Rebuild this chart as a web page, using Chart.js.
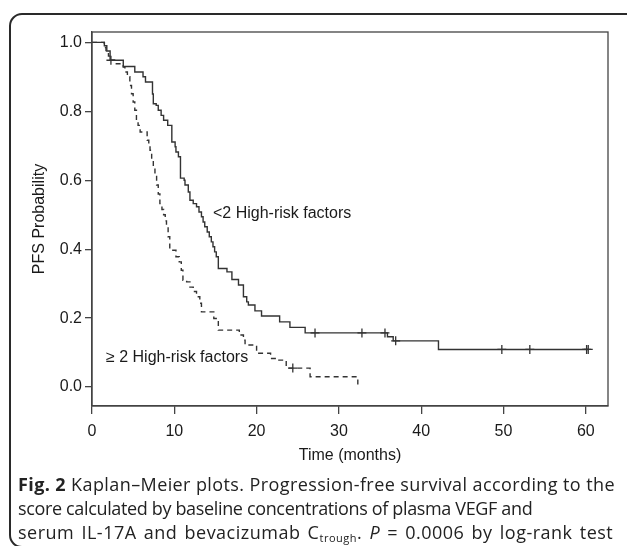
<!DOCTYPE html>
<html>
<head>
<meta charset="utf-8">
<script src="https://cdn.jsdelivr.net/npm/chart.js@4.4.1/dist/chart.umd.min.js"></script>
<style>
  html, body { margin: 0; padding: 0; background: #fff; }
  body { width: 627px; height: 546px; position: relative; overflow: hidden; }
  #box { position: absolute; left: 9px; top: 13px; width: 660px; height: 531px; border: 2px solid #2a2a2a; border-radius: 13px; }
  #wrap { position: absolute; left: 0; top: 0; width: 627px; height: 480px; }
  #caption { position: absolute; left: 18px; top: 472px; font-family: "Open Sans", sans-serif; font-size: 18px; line-height: 24px; color: #222; }
  #caption div { white-space: nowrap; }
  #caption .l1 { letter-spacing: 0.4px; }
  #caption .l2 { letter-spacing: -0.35px; }
  #caption .l3 { letter-spacing: 0.5px; word-spacing: 2px; }
  #caption b { font-weight: 700; }
  #caption sub { font-size: 11px; line-height: 0; vertical-align: -3px; }
</style>
</head>
<body>
<div id="box"></div>
<div id="wrap"><canvas id="km"></canvas></div>
<div id="caption">
  <div class="l1"><b>Fig. 2</b> Kaplan–Meier plots. Progression-free survival according to the</div>
  <div class="l2">score calculated by baseline concentrations of plasma VEGF and</div>
  <div class="l3">serum IL-17A and bevacizumab C<sub>trough</sub>. <i>P</i> = 0.0006 by log-rank test</div>
</div>
<script>
// axes
const xTicks = [0, 10, 20, 30, 40, 50, 60];
const yTicks = [0, 0.2, 0.4, 0.6, 0.8, 1.0];

// <2 high-risk factors (solid) — step times / survival after event
const lowTime = [0, 1.5, 1.8, 2.2, 3.8, 5.2, 6.2, 6.5, 7.35, 7.45, 7.8, 8.05, 8.4, 8.7, 9.2, 9.7, 10.1, 10.2, 10.5, 10.75,
  11.2, 11.3, 11.7, 11.9, 12.3, 12.7, 13.0, 13.3, 13.5, 13.7, 14.0, 14.25, 14.5, 14.7, 14.9, 15.1, 15.35,
  16.4, 17.0, 17.8, 18.4, 18.8, 19.0, 19.8, 20.6, 22.8, 24.05, 25.9, 35.9, 36.6, 42.1, 60.3];
const lowSurv = [1.0, 0.99, 0.975, 0.948, 0.93, 0.914, 0.9, 0.885, 0.85, 0.822, 0.817, 0.803, 0.788, 0.774, 0.759, 0.711, 0.697, 0.682, 0.668, 0.606,
  0.6, 0.586, 0.566, 0.542, 0.532, 0.523, 0.508, 0.494, 0.479, 0.465, 0.45, 0.436, 0.421, 0.407, 0.392, 0.378, 0.344,
  0.334, 0.312, 0.296, 0.262, 0.247, 0.238, 0.221, 0.206, 0.189, 0.173, 0.157, 0.146, 0.134, 0.109, 0.109];
const lowCensTime = [2.3, 27.1, 32.8, 35.6, 36.9, 49.8, 53.2, 60.1, 60.3];
const lowCensSurv = [0.948, 0.157, 0.157, 0.157, 0.134, 0.109, 0.109, 0.109, 0.109];

// ≥2 high-risk factors (dashed)
const highTime = [0, 1.5, 1.7, 2.0, 2.3, 2.7, 3.8, 4.0, 4.3, 4.6, 4.8, 5.0, 5.2, 5.4, 5.6, 5.85, 6.7, 6.9, 7.05, 7.25, 7.45,
  7.65, 7.85, 8.05, 8.25, 8.5, 8.7, 8.9, 9.05, 9.25, 9.45, 10.2, 10.6, 10.85, 11.05, 11.5, 11.9, 12.3, 12.7, 13.1, 13.3,
  14.8, 15.35, 17.9, 18.4, 18.6, 20.0, 21.7, 22.6, 23.6, 26.5, 32.3];
const highSurv = [1.0, 0.985, 0.972, 0.96, 0.948, 0.938, 0.928, 0.914, 0.9, 0.875, 0.851, 0.827, 0.803, 0.774, 0.759, 0.74, 0.716, 0.7, 0.687, 0.658, 0.639,
  0.614, 0.586, 0.56, 0.532, 0.515, 0.5, 0.482, 0.465, 0.436, 0.397, 0.378, 0.363, 0.339, 0.31, 0.305, 0.29, 0.277, 0.262, 0.243, 0.218,
  0.199, 0.165, 0.151, 0.136, 0.122, 0.098, 0.083, 0.078, 0.055, 0.03, 0.0];
const highCensTime = [24.4];
const highCensSurv = [0.055];

// curve labels [text, time, survival]
const curveLabels = [
  ['<2 High-risk factors', 14.7, 0.504],
  ['\u2265 2 High-risk factors', 1.7, 0.084]
];

const ink = '#333';
const toPts = (xs, ys) => xs.map((x, i) => ({ x, y: ys[i] }));

Chart.defaults.font.family = '"Liberation Sans", Arial, sans-serif';
Chart.defaults.font.size = 16;
Chart.defaults.color = '#1a1a1a';

const boxPlugin = {
  id: 'boxPlugin',
  afterDatasetsDraw(chart) {
    const { ctx, chartArea: a, scales } = chart;
    ctx.save();
    ctx.strokeStyle = '#444';
    ctx.lineWidth = 1.3;
    ctx.strokeRect(a.left, a.top, a.right - a.left, a.bottom - a.top);
    ctx.fillStyle = '#1a1a1a';
    ctx.font = '16px "Liberation Sans", Arial, sans-serif';
    ctx.textBaseline = 'middle';
    ctx.textAlign = 'left';
    curveLabels.forEach(([t, x, y]) => {
      ctx.fillText(t, scales.x.getPixelForValue(x), scales.y.getPixelForValue(y));
    });
    ctx.restore();
  }
};

new Chart(document.getElementById('km').getContext('2d'), {
  type: 'line',
  data: {
    datasets: [
      { data: toPts(lowTime, lowSurv), stepped: 'before', borderColor: ink, borderWidth: 1.4, pointRadius: 0, fill: false },
      { data: toPts(highTime, highSurv), stepped: 'before', borderColor: ink, borderWidth: 1.4, borderDash: [5, 4], pointRadius: 0, fill: false },
      { data: toPts(lowCensTime, lowCensSurv), showLine: false, pointStyle: 'cross', pointRadius: 4.5, pointBorderColor: ink, pointBorderWidth: 1.3 },
      { data: toPts(highCensTime, highCensSurv), showLine: false, pointStyle: 'cross', pointRadius: 4.5, pointBorderColor: ink, pointBorderWidth: 1.3 }
    ]
  },
  options: {
    responsive: true,
    maintainAspectRatio: false,
    animation: false,
    layout: { padding: { top: 32, right: 19, left: 0, bottom: 0 } },
    plugins: { legend: { display: false }, tooltip: { enabled: false } },
    scales: {
      x: {
        type: 'linear', min: 0, max: 62.7,
        afterBuildTicks: (s) => { s.ticks = xTicks.map(v => ({ value: v })); },
        afterFit: (s) => { s.height = 74; },
        ticks: { padding: 8, maxRotation: 0, callback: (v) => String(v) },
        grid: { drawOnChartArea: false, drawTicks: true, tickLength: 8, color: '#444', lineWidth: 1.3 },
        border: { display: true, color: '#444', width: 1.3 },
        title: { display: true, text: 'Time (months)', padding: { top: 0, bottom: 15 } }
      },
      y: {
        type: 'linear', min: -0.055, max: 1.03,
        afterBuildTicks: (s) => { s.ticks = yTicks.map(v => ({ value: v })); },
        afterFit: (s) => { s.width = 92; },
        ticks: { padding: 3, callback: (v) => v.toFixed(1) },
        grid: { drawOnChartArea: false, drawTicks: true, tickLength: 7, color: '#444', lineWidth: 1.3 },
        border: { display: true, color: '#444', width: 1.3 },
        title: { display: true, text: 'PFS Probability', padding: { top: 30, bottom: 0 } }
      }
    }
  },
  plugins: [boxPlugin]
});
</script>
</body>
</html>
